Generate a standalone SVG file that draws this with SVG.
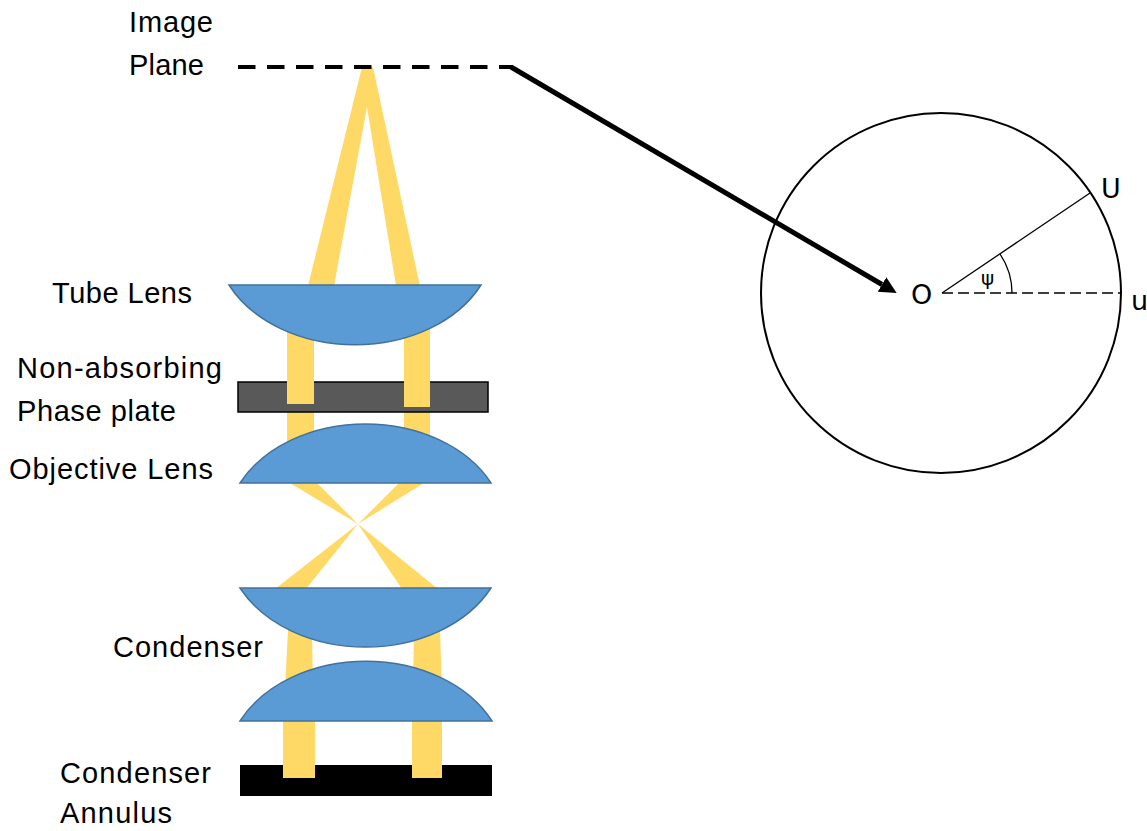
<svg xmlns="http://www.w3.org/2000/svg" width="1147" height="831" viewBox="0 0 1147 831">
  <style>
    .beam { fill: #FFD966; }
    .lens { fill: #5B9BD5; stroke: #41719C; stroke-width: 1.5; }
    .label { font-family: "Liberation Sans", Arial, sans-serif; font-size: 29px; fill: #000; }
    .sym { font-family: "DejaVu Sans", sans-serif; font-size: 27px; fill: #000; }
  </style>
  <defs>
    <marker id="arrowhead" markerUnits="userSpaceOnUse" markerWidth="18" markerHeight="18" refX="0" refY="8.5" orient="auto">
      <path d="M0,0 L17,8.5 L0,17 Z" fill="#000"/>
    </marker>
  </defs>

  <rect width="1147" height="831" fill="#fff"/>

  <!-- light paths (drawn beneath the optics) -->
  <g id="beams">
    <!-- converging cone to the image plane -->
    <polygon class="beam" points="308,286 362,67 373,67 420,286 396,286 367,107 334,286"/>
    <!-- parallel beams between objective and tube lens -->
    <rect class="beam" x="287" y="320" width="27" height="140"/>
    <rect class="beam" x="404" y="320" width="26" height="140"/>
    <!-- crossing wedges at the specimen focus -->
    <polygon class="beam" points="290,483 317,483 358,524"/>
    <polygon class="beam" points="399,483 424,483 358,524"/>
    <polygon class="beam" points="358,524 275,589 306,589"/>
    <polygon class="beam" points="358,524 402,589 438,589"/>
    <!-- between condenser elements -->
    <polygon class="beam" points="288,630 312,630 313,690 285,690"/>
    <polygon class="beam" points="414,630 440,630 442,690 413,690"/>
  </g>

  <!-- phase plate -->
  <g id="phase-plate">
    <rect x="238" y="382" width="250" height="30" fill="#595959" stroke="#000" stroke-width="1.5"/>
    <rect class="beam" x="287" y="381" width="27" height="23"/>
    <rect class="beam" x="404" y="381" width="26" height="26"/>
  </g>

  <!-- condenser annulus -->
  <g id="annulus">
    <rect x="240" y="765" width="252" height="31" fill="#000"/>
    <rect class="beam" x="283" y="705" width="32" height="73"/>
    <rect class="beam" x="412" y="705" width="30" height="73"/>
  </g>

  <!-- lenses -->
  <g id="tube-lens">
    <path class="lens" d="M229,285 H481 A140,106 0 0 1 229,285 Z"/>
  </g>
  <g id="objective-lens">
    <path class="lens" d="M240,483 H491 A140,106 0 0 0 240,483 Z"/>
  </g>
  <g id="condenser-upper">
    <path class="lens" d="M240,588 H491 A140,106 0 0 1 240,588 Z"/>
  </g>
  <g id="condenser-lower">
    <path class="lens" d="M240,721 H492 A140,106 0 0 0 240,721 Z"/>
  </g>

  <!-- image plane and the link to the phasor circle -->
  <g id="connectors">
    <line x1="238" y1="67" x2="512" y2="67" stroke="#000" stroke-width="4" stroke-dasharray="17.5 11.5"/>
    <line x1="511" y1="67" x2="882" y2="284.5" stroke="#000" stroke-width="5" marker-end="url(#arrowhead)"/>
  </g>

  <!-- phasor diagram -->
  <g id="phasor">
    <circle cx="941" cy="293" r="180" fill="none" stroke="#000" stroke-width="2"/>
    <line x1="942" y1="293" x2="1090" y2="193" stroke="#000" stroke-width="1.3"/>
    <line x1="942" y1="293" x2="1121" y2="293" stroke="#000" stroke-width="1.3" stroke-dasharray="11 5"/>
    <path d="M1012,293 A70,70 0 0 0 1000,254" fill="none" stroke="#000" stroke-width="1.3"/>
    <text class="sym" x="911" y="304">O</text>
    <text class="sym" x="1101" y="198">U</text>
    <text class="sym" x="1131" y="310">u</text>
    <text class="sym" x="981" y="285" style="font-size:20px">ψ</text>
  </g>

  <!-- labels -->
  <g id="labels">
    <text class="label" x="129" y="32" textLength="84">Image</text>
    <text class="label" x="129" y="75" textLength="75">Plane</text>
    <text class="label" x="52" y="303" textLength="140">Tube Lens</text>
    <text class="label" x="17" y="378" textLength="205">Non-absorbing</text>
    <text class="label" x="17" y="421" textLength="159">Phase plate</text>
    <text class="label" x="9" y="479" textLength="204">Objective Lens</text>
    <text class="label" x="113" y="657" textLength="150">Condenser</text>
    <text class="label" x="60" y="783" textLength="151">Condenser</text>
    <text class="label" x="60" y="823" textLength="112">Annulus</text>
  </g>
</svg>
